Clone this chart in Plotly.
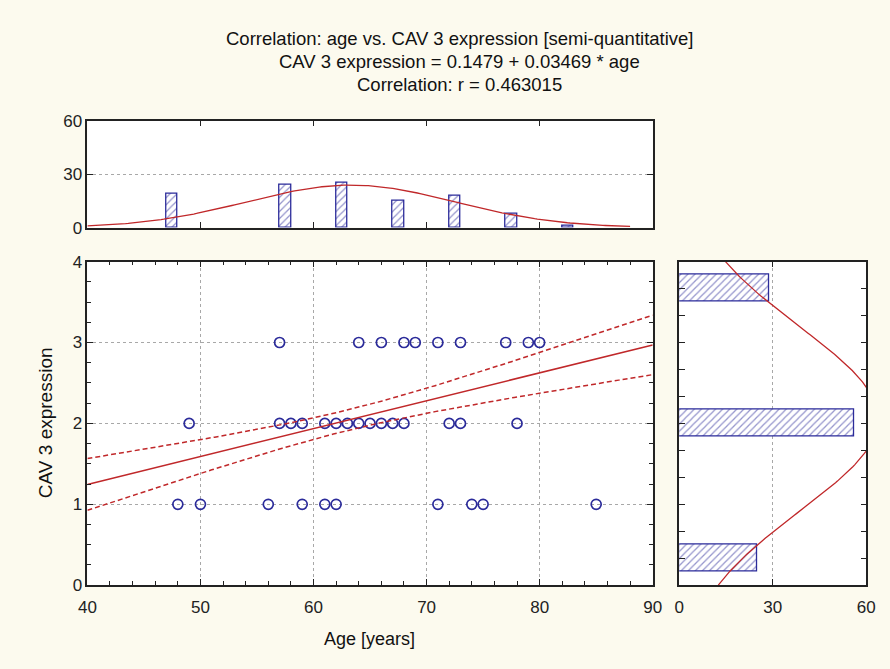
import numpy as np
import plotly.graph_objects as go

# ---------------- data ----------------
age_hist_centers = [47.5, 57.5, 62.5, 67.5, 72.5, 77.5, 82.5]
age_hist_counts = [19, 24, 25, 15, 18, 8, 1]

cav_hist_centers = [0.333, 2.0, 3.667]
cav_hist_counts = [25, 56, 29]

age_pts_3 = [57, 64, 66, 68, 69, 71, 73, 77, 79, 80]
age_pts_2 = [49, 57, 58, 59, 61, 62, 63, 64, 65, 66, 67, 68, 72, 73, 78]
age_pts_1 = [48, 50, 56, 59, 61, 62, 71, 74, 75, 85]

ages = age_pts_3 + age_pts_2 + age_pts_1
cav = [3] * len(age_pts_3) + [2] * len(age_pts_2) + [1] * len(age_pts_1)

# regression line and 95% band as drawn
reg_intercept = -0.135
reg_slope = 0.0345
n_obs = 110
age_mean = 63.0
age_sxx = 10800.0
t_se = 1.327

# fitted normal curves on the marginal histograms
age_fit_mean, age_fit_sd, age_fit_scale = 63.3, 9.2, 550.0
cav_fit_mean, cav_fit_sd, cav_fit_scale = 2.055, 1.14, 182.0

title_lines = [
    "Correlation: age vs. CAV 3 expression [semi-quantitative]",
    "CAV 3 expression = 0.1479 + 0.03469 * age",
    "Correlation: r = 0.463015",
]
x_title = "Age [years]"
y_title = "CAV 3 expression"

# ---------------- styling ----------------
BLUE = "#2b2b9a"
RED = "#c0282a"
BG = "#FCFAEE"
FONT = "Liberation Sans, Arial, sans-serif"
W, H = 890, 669


def px_x(a, b):
    return [a / W, b / W]


def px_y(top, bottom):
    return [(H - bottom) / H, (H - top) / H]


fig = go.Figure()

# main scatter
fig.add_trace(go.Scatter(
    x=ages, y=cav, mode="markers",
    marker=dict(symbol="circle-open", size=10, color=BLUE, line=dict(width=1.7, color=BLUE)),
    xaxis="x", yaxis="y", showlegend=False))

xs = np.linspace(40, 90, 201)
yhat = reg_intercept + reg_slope * xs
half = t_se * np.sqrt(1.0 / n_obs + (xs - age_mean) ** 2 / age_sxx)
fig.add_trace(go.Scatter(x=xs, y=yhat, mode="lines", line=dict(color=RED, width=1.5),
                         xaxis="x", yaxis="y", showlegend=False))
for sgn in (1, -1):
    fig.add_trace(go.Scatter(x=xs, y=yhat + sgn * half, mode="lines",
                             line=dict(color=RED, width=1.5, dash="5px,3px"),
                             xaxis="x", yaxis="y", showlegend=False))

# top histogram
fig.add_trace(go.Bar(
    x=age_hist_centers, y=age_hist_counts, width=1.0,
    marker=dict(color="white", line=dict(color=BLUE, width=1.3),
                pattern=dict(shape="/", fgcolor=BLUE, bgcolor="white", size=5, solidity=0.25)),
    xaxis="x2", yaxis="y2", showlegend=False))
xa = np.linspace(40, 88, 200)
fa = age_fit_scale / (age_fit_sd * np.sqrt(2 * np.pi)) * np.exp(-(xa - age_fit_mean) ** 2 / (2 * age_fit_sd ** 2))
fig.add_trace(go.Scatter(x=xa, y=fa, mode="lines", line=dict(color=RED, width=1.3),
                         xaxis="x2", yaxis="y2", showlegend=False))

# right histogram
fig.add_trace(go.Bar(
    y=cav_hist_centers, x=cav_hist_counts, orientation="h", width=0.333,
    marker=dict(color="white", line=dict(color=BLUE, width=1.3),
                pattern=dict(shape="/", fgcolor=BLUE, bgcolor="white", size=5, solidity=0.25)),
    xaxis="x3", yaxis="y3", showlegend=False))
yc = np.linspace(0, 4, 200)
fc = cav_fit_scale / (cav_fit_sd * np.sqrt(2 * np.pi)) * np.exp(-(yc - cav_fit_mean) ** 2 / (2 * cav_fit_sd ** 2))
fig.add_trace(go.Scatter(x=fc, y=yc, mode="lines", line=dict(color=RED, width=1.3),
                         xaxis="x3", yaxis="y3", showlegend=False))

frame = dict(showline=True, linecolor="#222", linewidth=1.5, mirror="ticks",
             ticks="inside", tickcolor="#222", ticklen=6, tickwidth=1.2,
             zeroline=False, tickfont=dict(family=FONT, size=17, color="#222"),
             griddash="dot", gridcolor="#a8a8a8", gridwidth=1)

fig.update_layout(
    width=W, height=H,
    paper_bgcolor=BG, plot_bgcolor="white",
    margin=dict(l=0, r=0, t=0, b=0),
    bargap=0,
    xaxis=dict(frame, domain=px_x(80, 657), range=[40, 90], dtick=10, tick0=40, showgrid=True,
               minor=dict(ticks="inside", dtick=2, ticklen=4, tickcolor="#222", showgrid=False),
               ticklabelstandoff=6, anchor="y"),
    yaxis=dict(frame, domain=px_y(260, 593), range=[0, 4], dtick=1, showgrid=True,
               minor=dict(ticks="inside", dtick=0.25, ticklen=4, tickcolor="#222", showgrid=False),
               anchor="x"),
    xaxis2=dict(frame, domain=px_x(80, 657), range=[40, 90], dtick=10, tick0=40, showgrid=False,
                showticklabels=False, anchor="y2"),
    yaxis2=dict(frame, domain=px_y(115, 225), range=[0, 60], dtick=30, showgrid=True, anchor="x2"),
    xaxis3=dict(frame, domain=px_x(684, 875), range=[0, 60], dtick=30, showgrid=True,
                ticklabelstandoff=6, anchor="y3"),
    yaxis3=dict(frame, domain=px_y(260, 593), range=[0, 4], dtick=1 / 3, tick0=0,
                showgrid=False, showticklabels=False, anchor="x3"),
)

annos = []
for i, t in enumerate(title_lines):
    annos.append(dict(text=t, x=460 / W, y=(H - (30 + 24 * i)) / H, xref="paper", yref="paper",
                      showarrow=False, xanchor="center", yanchor="middle",
                      font=dict(family=FONT, size=18.5, color="#111")))
annos.append(dict(text=x_title, x=368 / W, y=(H - 648) / H, xref="paper", yref="paper",
                  showarrow=False, xanchor="center", yanchor="middle",
                  font=dict(family=FONT, size=18, color="#111")))
annos.append(dict(text=y_title, x=38 / W, y=(H - 426) / H, xref="paper", yref="paper",
                  showarrow=False, xanchor="center", yanchor="middle", textangle=-90,
                  font=dict(family=FONT, size=19, color="#111")))
fig.update_layout(annotations=annos)

fig.write_html("out.html", config={"displayModeBar": False},
               post_script="document.body.style.margin='0';")
